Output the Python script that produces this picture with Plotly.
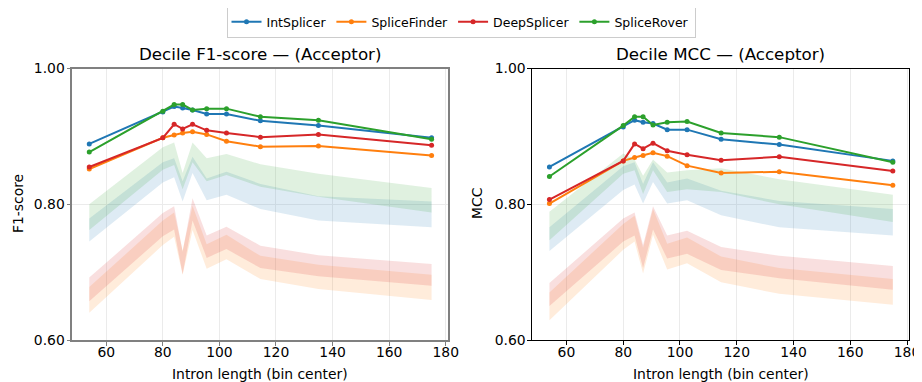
import plotly.graph_objects as go

# ---------------- data ----------------
bin_centers = [54, 80, 84, 87, 90.5, 95.5, 102.5, 114.5, 135, 175]
models = ["IntSplicer", "SpliceFinder", "DeepSplicer", "SpliceRover"]
colors = {"IntSplicer": "#1f77b4", "SpliceFinder": "#ff7f0e",
          "DeepSplicer": "#d62728", "SpliceRover": "#2ca02c"}
band_fill = {"IntSplicer": "rgba(31,119,180,0.15)", "SpliceFinder": "rgba(255,127,14,0.15)",
             "DeepSplicer": "rgba(214,39,40,0.15)", "SpliceRover": "rgba(44,160,44,0.15)"}

# F1-score (left panel)
f1_intsplicer = [0.889, 0.936, 0.944, 0.942, 0.939, 0.933, 0.933, 0.923, 0.916, 0.898]
f1_splicefinder = [0.852, 0.898, 0.902, 0.905, 0.907, 0.903, 0.893, 0.885, 0.886, 0.872]
f1_deepsplicer = [0.855, 0.898, 0.918, 0.911, 0.918, 0.909, 0.905, 0.899, 0.903, 0.887]
f1_splicerover = [0.877, 0.937, 0.947, 0.947, 0.939, 0.941, 0.941, 0.929, 0.924, 0.896]

f1_band_hi_intsplicer = [0.779, 0.862, 0.868, 0.834, 0.870, 0.838, 0.848, 0.830, 0.812, 0.804]
f1_band_lo_intsplicer = [0.745, 0.832, 0.840, 0.804, 0.846, 0.806, 0.814, 0.793, 0.776, 0.766]
f1_band_hi_splicefinder = [0.678, 0.776, 0.788, 0.732, 0.798, 0.741, 0.755, 0.724, 0.711, 0.696]
f1_band_lo_splicefinder = [0.640, 0.740, 0.752, 0.696, 0.762, 0.705, 0.719, 0.690, 0.675, 0.659]
f1_band_hi_deepsplicer = [0.692, 0.787, 0.797, 0.730, 0.809, 0.754, 0.767, 0.739, 0.725, 0.712]
f1_band_lo_deepsplicer = [0.657, 0.753, 0.763, 0.697, 0.776, 0.721, 0.734, 0.706, 0.694, 0.680]
f1_band_hi_splicerover = [0.800, 0.884, 0.891, 0.846, 0.891, 0.868, 0.874, 0.859, 0.845, 0.824]
f1_band_lo_splicerover = [0.762, 0.851, 0.858, 0.822, 0.862, 0.834, 0.843, 0.826, 0.811, 0.788]

# MCC (right panel)
mcc_intsplicer = [0.855, 0.914, 0.924, 0.921, 0.919, 0.910, 0.910, 0.896, 0.888, 0.864]
mcc_splicefinder = [0.801, 0.864, 0.869, 0.872, 0.876, 0.871, 0.857, 0.846, 0.848, 0.828]
mcc_deepsplicer = [0.807, 0.864, 0.889, 0.882, 0.890, 0.879, 0.873, 0.865, 0.870, 0.849]
mcc_splicerover = [0.841, 0.916, 0.929, 0.929, 0.917, 0.921, 0.922, 0.905, 0.899, 0.862]

mcc_band_hi_intsplicer = [0.766, 0.856, 0.862, 0.830, 0.862, 0.832, 0.838, 0.820, 0.805, 0.793]
mcc_band_lo_intsplicer = [0.731, 0.821, 0.829, 0.801, 0.833, 0.801, 0.806, 0.784, 0.766, 0.754]
mcc_band_hi_splicefinder = [0.670, 0.771, 0.783, 0.736, 0.793, 0.742, 0.751, 0.723, 0.706, 0.690]
mcc_band_lo_splicefinder = [0.629, 0.733, 0.745, 0.698, 0.755, 0.704, 0.713, 0.685, 0.668, 0.652]
mcc_band_hi_deepsplicer = [0.684, 0.779, 0.788, 0.740, 0.797, 0.754, 0.761, 0.737, 0.724, 0.709]
mcc_band_lo_deepsplicer = [0.650, 0.745, 0.754, 0.706, 0.763, 0.720, 0.727, 0.703, 0.691, 0.674]
mcc_band_hi_splicerover = [0.789, 0.875, 0.866, 0.842, 0.866, 0.847, 0.850, 0.853, 0.837, 0.814]
mcc_band_lo_splicerover = [0.747, 0.845, 0.850, 0.815, 0.850, 0.818, 0.822, 0.818, 0.800, 0.774]

x_ticks = [60, 80, 100, 120, 140, 160, 180]
y_ticks = [0.60, 0.80, 1.00]

panels = [
    {"xa": "x", "ya": "y",
     "lines": {"IntSplicer": f1_intsplicer, "SpliceFinder": f1_splicefinder,
               "DeepSplicer": f1_deepsplicer, "SpliceRover": f1_splicerover},
     "bands": {"IntSplicer": (f1_band_lo_intsplicer, f1_band_hi_intsplicer),
               "SpliceFinder": (f1_band_lo_splicefinder, f1_band_hi_splicefinder),
               "DeepSplicer": (f1_band_lo_deepsplicer, f1_band_hi_deepsplicer),
               "SpliceRover": (f1_band_lo_splicerover, f1_band_hi_splicerover)}},
    {"xa": "x2", "ya": "y2",
     "lines": {"IntSplicer": mcc_intsplicer, "SpliceFinder": mcc_splicefinder,
               "DeepSplicer": mcc_deepsplicer, "SpliceRover": mcc_splicerover},
     "bands": {"IntSplicer": (mcc_band_lo_intsplicer, mcc_band_hi_intsplicer),
               "SpliceFinder": (mcc_band_lo_splicefinder, mcc_band_hi_splicefinder),
               "DeepSplicer": (mcc_band_lo_deepsplicer, mcc_band_hi_deepsplicer),
               "SpliceRover": (mcc_band_lo_splicerover, mcc_band_hi_splicerover)}},
]

fig = go.Figure()

for pi, p in enumerate(panels):
    for m in models:
        lo, hi = p["bands"][m]
        fig.add_trace(go.Scatter(
            x=bin_centers + bin_centers[::-1], y=hi + lo[::-1],
            fill="toself", fillcolor=band_fill[m], line=dict(width=0),
            mode="lines", hoverinfo="skip", showlegend=False,
            xaxis=p["xa"], yaxis=p["ya"]))
for pi, p in enumerate(panels):
    for m in models:
        fig.add_trace(go.Scatter(
            x=bin_centers, y=p["lines"][m], name=m, mode="lines+markers",
            line=dict(color=colors[m], width=2), marker=dict(color=colors[m], size=5),
            showlegend=(pi == 0), legendgroup=m,
            xaxis=p["xa"], yaxis=p["ya"]))

# page has an 8px body margin: figure is sized to fit the 922x382 window
OFF = 8
W, H = 922 - OFF, 382 - OFF


def px_x(v):
    return (v - OFF) / W


def px_y(v):
    return 1 - (v - OFF) / H


font = "DejaVu Sans, Arial, sans-serif"
xr = [48.0, 180.7]
common_x = dict(range=xr, tickvals=x_ticks, ticks="outside", ticklen=4, showgrid=True,
                gridcolor="#ebebeb", gridwidth=1, zeroline=False, mirror=True,
                showline=True, tickfont=dict(size=13.9, color="#000"), automargin=False,
                ticklabelstandoff=-5)
common_y = dict(range=[0.6, 1.0], tickvals=y_ticks, tickformat=".2f", ticks="outside", ticklen=4,
                showgrid=True, gridcolor="#ebebeb", gridwidth=1, zeroline=False, mirror=True,
                showline=True, tickfont=dict(size=13.9, color="#000"),
                domain=[px_y(340), px_y(68.6)], automargin=False, ticklabelstandoff=-1)

ann = [
    dict(text="Decile F1-score — (Acceptor)", x=px_x(260), y=px_y(54), font=dict(size=16.7)),
    dict(text="Decile MCC — (Acceptor)", x=px_x(720.7), y=px_y(54), font=dict(size=16.7)),
    dict(text="Intron length (bin center)", x=px_x(260), y=px_y(374), font=dict(size=13.9)),
    dict(text="Intron length (bin center)", x=px_x(720.7), y=px_y(374), font=dict(size=13.9)),
    dict(text="F1-score", x=px_x(18), y=px_y(204), font=dict(size=13.9), textangle=-90),
    dict(text="MCC", x=px_x(477), y=px_y(204), font=dict(size=13.9), textangle=-90),
]
for a in ann:
    a.update(xref="paper", yref="paper", showarrow=False, xanchor="center", yanchor="middle")
    a["font"]["color"] = "#000"

fig.update_layout(
    width=W, height=H, margin=dict(l=0, r=0, t=0, b=0, autoexpand=False),
    paper_bgcolor="white", plot_bgcolor="white",
    font=dict(family=font, color="#000"),
    xaxis=dict(domain=[px_x(72.3), px_x(447.7)], anchor="y", linecolor="#808080", linewidth=1.5,
               tickcolor="#808080", **common_x),
    xaxis2=dict(domain=[px_x(532.4), px_x(909)], anchor="y2", linecolor="#000", linewidth=1,
                tickcolor="#000", **common_x),
    yaxis=dict(anchor="x", linecolor="#808080", linewidth=1.5, tickcolor="#808080", **common_y),
    yaxis2=dict(anchor="x2", linecolor="#000", linewidth=1, tickcolor="#000", **common_y),
    legend=dict(orientation="h", x=px_x(461), xanchor="center", y=px_y(22), yanchor="middle",
                bordercolor="#cccccc", borderwidth=1, bgcolor="white",
                font=dict(size=12.5, color="#000"), itemwidth=30, tracegroupgap=0),
    showlegend=True,
    annotations=ann,
)

fig.write_html("out.html")
